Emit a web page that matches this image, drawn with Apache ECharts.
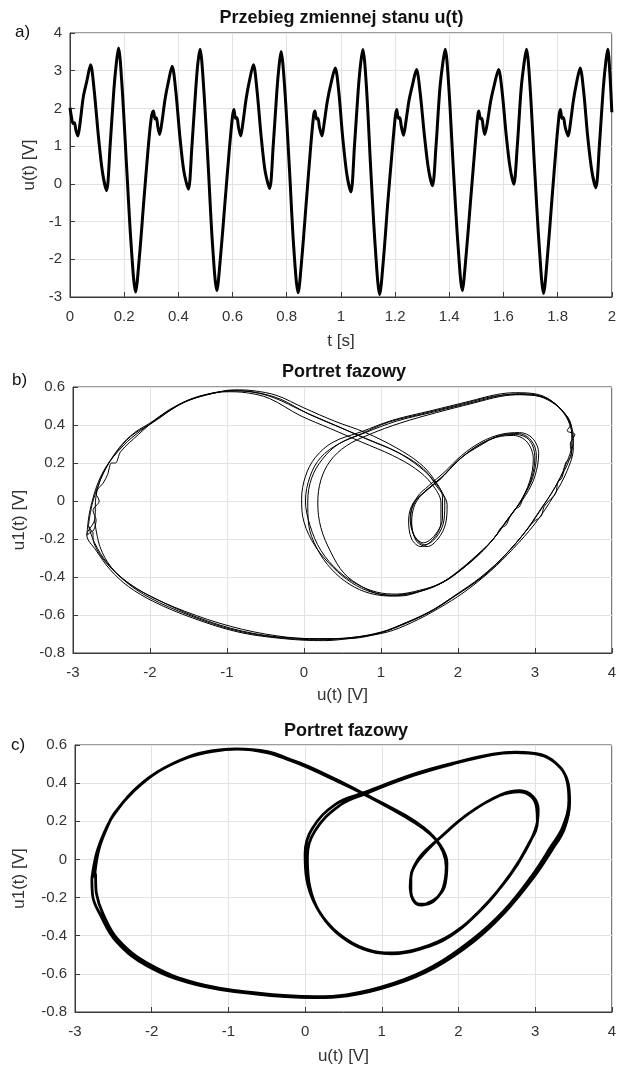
<!DOCTYPE html>
<html><head><meta charset="utf-8">
<script src="https://cdn.jsdelivr.net/npm/echarts@6/dist/echarts.min.js"></script>
<style>html,body{margin:0;padding:0;background:#fff}#c{width:619px;height:1068px}</style>
</head><body><div id="c"></div>
<script>
// ---------- data ----------
// a) time series u(t): [t, u]
const seriesA = [
[0,2.02],[0.006,1.75],[0.011,1.6],[0.016,1.62],[0.022,1.42],[0.029,1.27],[0.037,1.6],[0.049,2.3],[0.062,2.72],[0.076,3.16],[0.089,2.5],[0.105,1.25],[0.12,0.3],[0.135,-0.18],[0.148,1.0],[0.162,2.5],[0.171,3.2],[0.179,3.6],[0.192,2.6],[0.209,0.45],[0.226,-1.65],[0.242,-2.87],[0.256,-1.95],[0.272,-0.5],[0.288,0.9],[0.3,1.75],
[0.308,1.93],[0.314,1.72],[0.319,1.75],[0.324,1.52],[0.331,1.31],[0.339,1.62],[0.351,2.25],[0.363,2.7],[0.377,3.12],[0.39,2.5],[0.405,1.3],[0.42,0.35],[0.437,-0.14],[0.45,1.0],[0.464,2.5],[0.472,3.2],[0.48,3.57],[0.493,2.6],[0.51,0.5],[0.526,-1.6],[0.542,-2.83],[0.556,-1.9],[0.572,-0.5],[0.588,0.9],[0.6,1.8],
[0.605,1.97],[0.611,1.74],[0.616,1.76],[0.622,1.5],[0.63,1.27],[0.638,1.6],[0.65,2.25],[0.662,2.72],[0.677,3.16],[0.69,2.5],[0.705,1.3],[0.72,0.35],[0.737,-0.12],[0.75,1.0],[0.764,2.5],[0.772,3.15],[0.779,3.51],[0.792,2.6],[0.81,0.4],[0.826,-1.7],[0.842,-2.89],[0.856,-1.95],[0.872,-0.5],[0.888,0.95],[0.899,1.8],
[0.904,1.93],[0.91,1.72],[0.915,1.74],[0.921,1.5],[0.93,1.27],[0.938,1.6],[0.95,2.2],[0.963,2.65],[0.979,3.07],[0.992,2.45],[1.007,1.2],[1.022,0.25],[1.037,-0.21],[1.05,1.0],[1.064,2.5],[1.073,3.2],[1.081,3.56],[1.094,2.6],[1.11,0.4],[1.127,-1.7],[1.143,-2.94],[1.157,-2.0],[1.173,-0.5],[1.19,0.95],[1.201,1.8],
[1.206,1.97],[1.212,1.74],[1.217,1.76],[1.223,1.52],[1.231,1.29],[1.239,1.6],[1.251,2.2],[1.264,2.62],[1.279,3.03],[1.292,2.45],[1.308,1.3],[1.323,0.4],[1.338,-0.05],[1.351,1.0],[1.365,2.5],[1.377,3.25],[1.385,3.57],[1.398,2.6],[1.415,0.4],[1.432,-1.6],[1.448,-2.83],[1.462,-1.9],[1.478,-0.5],[1.494,0.9],[1.505,1.8],
[1.509,1.93],[1.515,1.72],[1.52,1.74],[1.525,1.52],[1.531,1.31],[1.54,1.6],[1.553,2.2],[1.566,2.62],[1.582,3.03],[1.595,2.45],[1.61,1.3],[1.624,0.45],[1.638,-0.01],[1.651,1.0],[1.665,2.5],[1.677,3.25],[1.685,3.57],[1.698,2.6],[1.715,0.4],[1.732,-1.65],[1.748,-2.91],[1.762,-1.95],[1.778,-0.5],[1.794,0.95],[1.805,1.8],
[1.81,1.97],[1.816,1.74],[1.821,1.76],[1.828,1.5],[1.839,1.27],[1.847,1.6],[1.858,2.2],[1.869,2.65],[1.883,3.07],[1.896,2.45],[1.911,1.25],[1.926,0.35],[1.941,-0.1],[1.954,1.0],[1.968,2.5],[1.978,3.25],[1.985,3.57],[1.993,2.9],[2.0,1.9]
];

// b) phase portrait (measured, several cycles): [u, u1]
const loopB1 = [
[-2.8,-0.13],[-2.74,0.0],[-2.6,0.15],[-2.4,0.28],[-2.2,0.36],[-2.0,0.41],[-1.75,0.48],[-1.5,0.53],[-1.2,0.565],[-0.95,0.58],[-0.7,0.575],[-0.4,0.545],[0.0,0.47],[0.4,0.4],[0.8,0.33],[1.2,0.26],[1.5,0.18],[1.7,0.1],[1.83,0.0],[1.82,-0.1],[1.72,-0.19],[1.57,-0.23],[1.44,-0.19],[1.38,-0.09],[1.45,0.0],[1.6,0.06],[1.8,0.13],[2.05,0.23],[2.3,0.3],[2.55,0.345],[2.78,0.355],[2.95,0.32],[3.02,0.24],[2.97,0.12],[2.85,0.02],[2.8,-0.03],[2.75,-0.04],[2.68,-0.08],[2.62,-0.13],[2.56,-0.14],[2.5,-0.18],[2.3,-0.27],[2.05,-0.36],[1.8,-0.43],[1.5,-0.47],[1.2,-0.49],[0.95,-0.48],[0.7,-0.44],[0.45,-0.37],[0.22,-0.26],[0.08,-0.13],[0.02,0.0],[0.08,0.13],[0.22,0.23],[0.45,0.3],[0.8,0.36],[1.2,0.42],[1.7,0.47],[2.2,0.52],[2.55,0.555],[2.8,0.565],[3.1,0.55],[3.3,0.5],[3.45,0.42],[3.5,0.33],[3.45,0.22],[3.3,0.1],[3.12,-0.02],[2.88,-0.16],[2.6,-0.29],[2.3,-0.4],[1.95,-0.5],[1.65,-0.58],[1.3,-0.645],[1.0,-0.69],[0.6,-0.72],[0.2,-0.73],[-0.3,-0.72],[-0.9,-0.68],[-1.5,-0.6],[-2.0,-0.51],[-2.3,-0.43],[-2.55,-0.33],[-2.72,-0.22],[-2.8,-0.13]
];
const loopB2 = [
[-2.75,-0.16],[-2.7,-0.1],[-2.74,-0.05],[-2.66,0.0],[-2.7,0.04],[-2.6,0.1],[-2.55,0.14],[-2.5,0.2],[-2.45,0.2],[-2.38,0.26],[-2.15,0.35],[-1.95,0.42],[-1.7,0.49],[-1.45,0.54],[-1.15,0.57],[-0.9,0.585],[-0.65,0.58],[-0.35,0.555],[0.0,0.49],[0.4,0.42],[0.8,0.36],[1.2,0.28],[1.5,0.2],[1.68,0.12],[1.8,0.02],[1.8,-0.09],[1.7,-0.18],[1.55,-0.22],[1.42,-0.17],[1.39,-0.07],[1.47,0.02],[1.62,0.08],[1.82,0.15],[2.05,0.24],[2.3,0.31],[2.55,0.35],[2.8,0.36],[2.97,0.33],[3.05,0.25],[3.0,0.13],[2.88,0.03],[2.7,-0.07],[2.52,-0.17],[2.33,-0.26],[2.08,-0.35],[1.83,-0.42],[1.55,-0.47],[1.25,-0.5],[0.98,-0.49],[0.75,-0.45],[0.52,-0.38],[0.35,-0.27],[0.22,-0.14],[0.18,-0.01],[0.22,0.11],[0.34,0.21],[0.55,0.29],[0.85,0.35],[1.25,0.41],[1.72,0.465],[2.2,0.515],[2.55,0.55],[2.82,0.56],[3.12,0.545],[3.32,0.49],[3.47,0.4],[3.48,0.3],[3.4,0.19],[3.26,0.07],[3.08,-0.04],[2.84,-0.18],[2.55,-0.31],[2.25,-0.42],[1.92,-0.51],[1.62,-0.585],[1.27,-0.65],[0.95,-0.7],[0.55,-0.725],[0.15,-0.725],[-0.35,-0.71],[-0.95,-0.66],[-1.55,-0.58],[-2.05,-0.49],[-2.35,-0.41],[-2.6,-0.31],[-2.73,-0.22],[-2.75,-0.16]
];
const loopB3 = [
[-2.82,-0.18],[-2.78,-0.05],[-2.65,0.12],[-2.45,0.25],[-2.25,0.34],[-2.02,0.4],[-1.8,0.46],[-1.55,0.52],[-1.25,0.56],[-1.0,0.575],[-0.75,0.57],[-0.45,0.54],[-0.05,0.45],[0.35,0.38],[0.75,0.31],[1.15,0.24],[1.45,0.17],[1.66,0.09],[1.78,-0.01],[1.78,-0.11],[1.68,-0.2],[1.52,-0.24],[1.4,-0.2],[1.36,-0.1],[1.42,-0.01],[1.58,0.05],[1.78,0.12],[2.02,0.22],[2.28,0.29],[2.52,0.34],[2.75,0.35],[2.93,0.32],[3.0,0.23],[2.95,0.11],[2.82,0.0],[2.64,-0.1],[2.46,-0.2],[2.26,-0.28],[2.0,-0.37],[1.75,-0.44],[1.45,-0.48],[1.15,-0.495],[0.88,-0.48],[0.62,-0.43],[0.38,-0.35],[0.15,-0.24],[0.0,-0.11],[-0.03,0.01],[0.02,0.13],[0.15,0.23],[0.38,0.31],[0.75,0.365],[1.15,0.425],[1.65,0.475],[2.15,0.525],[2.5,0.56],[2.75,0.57],[3.05,0.56],[3.27,0.51],[3.42,0.44],[3.46,0.4],[3.42,0.37],[3.52,0.35],[3.46,0.3],[3.48,0.24],[3.4,0.2],[3.35,0.12],[3.3,0.1],[3.27,0.04],[3.18,0.0],[3.12,-0.03],[3.08,-0.08],[2.98,-0.11],[2.92,-0.14],[2.65,-0.27],[2.35,-0.39],[2.0,-0.49],[1.7,-0.57],[1.35,-0.64],[1.02,-0.69],[0.65,-0.72],[0.25,-0.735],[-0.25,-0.725],[-0.85,-0.69],[-1.45,-0.615],[-1.95,-0.53],[-2.28,-0.45],[-2.52,-0.36],[-2.7,-0.26],[-2.82,-0.18]
];
const loopB4 = [
[-2.72,-0.1],[-2.7,0.03],[-2.58,0.17],[-2.35,0.29],[-2.12,0.37],[-1.9,0.43],[-1.65,0.5],[-1.4,0.545],[-1.1,0.575],[-0.85,0.58],[-0.6,0.57],[-0.3,0.535],[0.05,0.46],[0.45,0.39],[0.85,0.32],[1.25,0.25],[1.55,0.17],[1.72,0.08],[1.86,-0.02],[1.84,-0.12],[1.74,-0.2],[1.6,-0.24],[1.46,-0.21],[1.4,-0.11],[1.44,-0.02],[1.57,0.05],[1.76,0.11],[2.0,0.21],[2.25,0.29],[2.5,0.335],[2.72,0.345],[2.9,0.31],[2.98,0.22],[2.93,0.1],[2.8,-0.01],[2.62,-0.11],[2.44,-0.21],[2.24,-0.29],[1.98,-0.38],[1.72,-0.445],[1.42,-0.485],[1.12,-0.5],[0.85,-0.485],[0.6,-0.44],[0.36,-0.36],[0.17,-0.25],[0.06,-0.12],[0.05,0.0],[0.1,0.12],[0.24,0.22],[0.45,0.3],[0.75,0.355],[1.1,0.415],[1.6,0.465],[2.1,0.515],[2.45,0.55],[2.7,0.56],[3.0,0.555],[3.22,0.52],[3.38,0.46],[3.47,0.38],[3.5,0.28],[3.42,0.16],[3.25,0.03],[3.0,-0.12],[2.72,-0.25],[2.42,-0.37],[2.08,-0.48],[1.75,-0.565],[1.4,-0.64],[1.08,-0.69],[0.7,-0.715],[0.3,-0.725],[-0.2,-0.72],[-0.8,-0.685],[-1.4,-0.61],[-1.9,-0.52],[-2.25,-0.44],[-2.5,-0.35],[-2.65,-0.24],[-2.72,-0.1]
];

// c) phase portrait (cleaner measurement): [u, u1]
const loopC1 = [
[-2.74,-0.07],[-2.69,0.05],[-2.6,0.15],[-2.49,0.24],[-2.23,0.36],[-1.92,0.46],[-1.51,0.54],[-1.2,0.57],[-0.9,0.58],[-0.49,0.565],[-0.2,0.525],[0.03,0.49],[0.4,0.42],[0.79,0.34],[1.31,0.23],[1.55,0.165],[1.67,0.12],[1.8,0.05],[1.85,-0.02],[1.82,-0.14],[1.72,-0.2],[1.62,-0.225],[1.51,-0.24],[1.42,-0.22],[1.38,-0.17],[1.38,-0.09],[1.43,-0.03],[1.51,0.02],[1.72,0.1],[2.13,0.24],[2.54,0.335],[2.79,0.355],[2.95,0.33],[3.02,0.27],[3.03,0.2],[2.9,0.07],[2.69,-0.07],[2.33,-0.25],[1.92,-0.39],[1.51,-0.465],[1.15,-0.49],[0.79,-0.47],[0.44,-0.39],[0.18,-0.27],[0.06,-0.14],[0.03,0.01],[0.13,0.15],[0.44,0.28],[0.79,0.345],[1.41,0.44],[1.92,0.5],[2.44,0.55],[2.74,0.56],[3.05,0.55],[3.31,0.49],[3.41,0.42],[3.44,0.31],[3.36,0.17],[3.21,0.07],[2.95,-0.09],[2.59,-0.27],[2.18,-0.42],[1.67,-0.56],[1.15,-0.65],[0.54,-0.71],[0.13,-0.72],[-0.64,-0.7],[-1.41,-0.65],[-2.03,-0.55],[-2.44,-0.42],[-2.64,-0.28],[-2.72,-0.18],[-2.74,-0.07]
];
const loopC2 = [
[-2.78,-0.1],[-2.72,0.03],[-2.62,0.14],[-2.5,0.23],[-2.25,0.355],[-1.94,0.455],[-1.53,0.535],[-1.2,0.567],[-0.88,0.578],[-0.5,0.56],[-0.2,0.52],[0.05,0.48],[0.42,0.41],[0.8,0.335],[1.3,0.225],[1.55,0.16],[1.69,0.11],[1.8,0.04],[1.84,-0.04],[1.8,-0.15],[1.7,-0.21],[1.58,-0.235],[1.49,-0.235],[1.41,-0.21],[1.37,-0.15],[1.39,-0.07],[1.45,-0.02],[1.55,0.03],[1.75,0.11],[2.15,0.245],[2.56,0.34],[2.8,0.36],[2.97,0.33],[3.04,0.26],[3.02,0.18],[2.88,0.05],[2.66,-0.09],[2.3,-0.26],[1.9,-0.4],[1.5,-0.47],[1.13,-0.495],[0.76,-0.47],[0.4,-0.38],[0.15,-0.25],[0.02,-0.1],[0.0,0.03],[0.09,0.16],[0.4,0.29],[0.77,0.35],[1.4,0.445],[1.93,0.505],[2.45,0.552],[2.75,0.563],[3.08,0.55],[3.33,0.48],[3.43,0.4],[3.45,0.3],[3.38,0.16],[3.22,0.05],[2.97,-0.1],[2.6,-0.28],[2.2,-0.43],[1.7,-0.565],[1.17,-0.655],[0.55,-0.715],[0.1,-0.725],[-0.66,-0.705],[-1.43,-0.655],[-2.05,-0.56],[-2.46,-0.43],[-2.67,-0.29],[-2.77,-0.19],[-2.78,-0.1]
];

// tick values
const xTicksA = [0,0.2,0.4,0.6,0.8,1,1.2,1.4,1.6,1.8,2];
const yTicksA = [-3,-2,-1,0,1,2,3,4];
const xTicksPhase = [-3,-2,-1,0,1,2,3,4];
const yTicksPhase = [-0.8,-0.6,-0.4,-0.2,0,0.2,0.4,0.6];

// texts
const titles = ['Przebieg zmiennej stanu u(t)', 'Portret fazowy', 'Portret fazowy'];
const xNames = ['t [s]', 'u(t) [V]', 'u(t) [V]'];
const yNames = ['u(t) [V]', 'u1(t) [V]', 'u1(t) [V]'];
const panelTags = ['a)', 'b)', 'c)'];

// ---------- chart ----------
const FONT = '"Liberation Sans", Arial, sans-serif';
const TXT = '#333333';
const grids = [
  {left:70, top:33, width:543, height:264},
  {left:73, top:387, width:542, height:266},
  {left:75, top:745, width:542, height:267}
];
const xGaps = [36, 34, 36];
const yGaps = [29, 43, 47];
const titleTops = [9, 363, 722];
const tagPos = [[15, 24], [12, 372], [11, 737]];

function fmt(v){ return String(Math.round(v*1000)/1000); }
function mkAxis(ticks, gi, name, gap, isY){
  const step = Math.round((ticks[1]-ticks[0])*1e6)/1e6;
  return {
    type:'value', gridIndex:gi, min:ticks[0], max:ticks[ticks.length-1], interval:step,
    name:name, nameLocation:'middle', nameGap:gap,
    nameTextStyle:{fontFamily:FONT, fontSize:17, color:TXT},
    axisLine:{show:true, onZero:false, lineStyle:{color:'#3a3a3a', width:1}},
    axisTick:{show:true, inside:true, length:5, lineStyle:{color:'#3a3a3a'}},
    axisLabel:{fontFamily:FONT, fontSize:15, color:TXT, margin: isY?8:12, formatter:fmt, showMinLabel:true, showMaxLabel:true},
    splitLine:{show:true, lineStyle:{color:'#e2e2e2', width:1}}
  };
}

const xAxes = [mkAxis(xTicksA,0,xNames[0],xGaps[0],false), mkAxis(xTicksPhase,1,xNames[1],xGaps[1],false), mkAxis(xTicksPhase,2,xNames[2],xGaps[2],false)];
const yAxes = [mkAxis(yTicksA,0,yNames[0],yGaps[0],true), mkAxis(yTicksPhase,1,yNames[1],yGaps[1],true), mkAxis(yTicksPhase,2,yNames[2],yGaps[2],true)];

function line(data, gi, w, sm){
  return {type:'line', xAxisIndex:gi, yAxisIndex:gi, data:data, showSymbol:false, symbol:'none',
    smooth:sm, lineStyle:{color:'#000', width:w}, clip:true, silent:true, z:3};
}

const option = {
  animation:false,
  backgroundColor:'#fff',
  title: titles.map((t,i)=>({text:t, left: grids[i].left + grids[i].width/2, top: titleTops[i], textAlign:'center', padding:0,
    textStyle:{fontFamily:FONT, fontSize:18, fontWeight:'bold', color:'#111'}})),
  grid: grids.map(g=>Object.assign({show:true, borderColor:'#3a3a3a', borderWidth:1, backgroundColor:'transparent'}, g)),
  xAxis: xAxes,
  yAxis: yAxes,
  graphic: panelTags.map((t,i)=>({type:'text', left:tagPos[i][0], top:tagPos[i][1],
    style:{text:t, fontFamily:FONT, fontSize:17, fill:'#111'}})),
  series: [
    line(seriesA, 0, 3, 0.3),
    line(loopB1.concat(loopB2, loopB3, loopB4), 1, 1, 0.35),
    line(loopC1.concat(loopC2), 2, 2.8, 0.4),
    line(loopC2, 2, 1, 0.4)
  ]
};
const chart = echarts.init(document.getElementById('c'), null, {renderer:'canvas'});
chart.setOption(option);
</script></body></html>
